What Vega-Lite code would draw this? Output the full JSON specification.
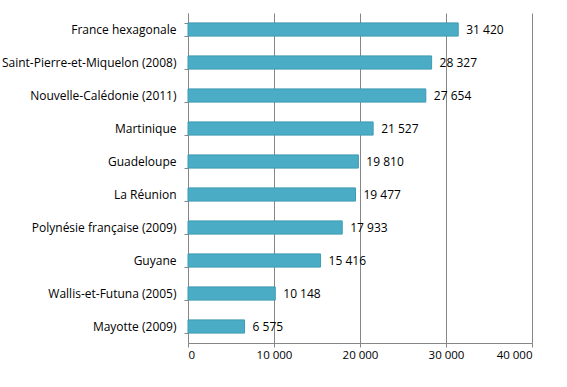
{
  "$schema": "https://vega.github.io/schema/vega-lite/v6.json",
  "autosize": "none",
  "width": 344,
  "height": 330,
  "padding": {"left": 188, "top": 13, "right": 35, "bottom": 44},
  "background": "white",
  "config": {
    "locale": {"number": {"decimal": ",", "thousands": " ", "grouping": [3], "currency": ["", " €"]}},
    "view": {"stroke": null},
    "font": "Open Sans"
  },
  "data": {"values": [
    {"territoire": "France hexagonale", "valeur": 31420},
    {"territoire": "Saint-Pierre-et-Miquelon (2008)", "valeur": 28327},
    {"territoire": "Nouvelle-Calédonie (2011)", "valeur": 27654},
    {"territoire": "Martinique", "valeur": 21527},
    {"territoire": "Guadeloupe", "valeur": 19810},
    {"territoire": "La Réunion", "valeur": 19477},
    {"territoire": "Polynésie française (2009)", "valeur": 17933},
    {"territoire": "Guyane", "valeur": 15416},
    {"territoire": "Wallis-et-Futuna (2005)", "valeur": 10148},
    {"territoire": "Mayotte (2009)", "valeur": 6575}
  ]},
  "encoding": {
    "y": {"field": "territoire", "type": "nominal", "sort": null,
      "scale": {"paddingInner": 0.6, "paddingOuter": 0.3},
      "axis": {"title": null, "labelFontSize": 12, "labelColor": "#000000", "labelPadding": 8,
        "tickBand": "extent", "tickSize": 4, "tickColor": "#868686", "domainColor": "#868686", "labelFont": "Open Sans", "labelFontWeight": "normal"}},
    "x": {"field": "valeur", "type": "quantitative",
      "scale": {"domain": [0, 40000], "nice": false},
      "axis": {"title": null, "values": [0, 10000, 20000, 30000, 40000], "format": ",d",
        "labelFontSize": 11.5, "labelColor": "#000000", "labelPadding": 2, "tickSize": 4,
        "tickColor": "#868686", "domainColor": "#868686", "gridColor": "#868686", "gridOpacity": 1, "grid": true}}
  },
  "layer": [
    {"mark": {"type": "bar", "color": "#4BACC6", "stroke": "#3E9AB3", "strokeWidth": 1}},
    {"mark": {"type": "text", "align": "left", "baseline": "middle", "dx": 8, "fontSize": 12, "color": "#000000"},
      "encoding": {"text": {"field": "valeur", "type": "quantitative", "format": ",d"}}}
  ]
}
